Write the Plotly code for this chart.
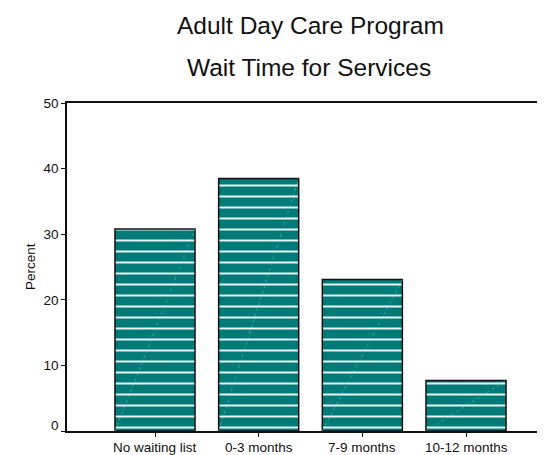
import plotly.graph_objects as go

# data
categories = ['No waiting list', '0-3 months', '7-9 months', '10-12 months']
percent = [30.8, 38.5, 23.1, 7.7]
y_ticks = [0, 10, 20, 30, 40, 50]

title_1 = 'Adult Day Care Program'
title_2 = 'Wait Time for Services'

# the page body keeps its default 8px margin, so the figure is drawn 8px
# smaller than the window and every target position is shifted by 8px
W, H = 537, 447
L, R, T, B = 59, 0, 94.5, 24
bar_w = 0.772
teal = '#007b78'
font = 'Arial, Liberation Sans, sans-serif'

xs = list(range(len(categories)))

graph_data = []

graph_data.append(
    go.Bar(
        x=xs,
        y=percent,
        width=bar_w,
        marker=dict(
            color=teal,
            line=dict(color='#111111', width=1.5),
            pattern=dict(shape='-', bgcolor=teal, fgcolor='#eaf6f6',
                         size=11, solidity=0.18, fillmode='replace'),
        ),
        showlegend=False,
        hoverinfo='y'
    )
)

# faint diagonal artefact across each bar (bottom-left to top-right)
for i, v in zip(xs, percent):
    graph_data.append(
        go.Scatter(
            x=[i - bar_w / 2, i + bar_w / 2],
            y=[0, v],
            mode='lines',
            line=dict(color='rgba(175,225,225,0.55)', width=0.7, dash='dot'),
            showlegend=False,
            hoverinfo='skip'
        )
    )

plot_w = W - L - R
plot_h = H - T - B
x_lo = -(147 - L) / 103.67
x_hi = x_lo + plot_w / 103.67

annotations = [
    dict(text=title_1, xref='paper', yref='paper',
         x=(302.5 - L) / plot_w, y=1 + (T - 17) / plot_h,
         xanchor='center', yanchor='middle', showarrow=False,
         font=dict(size=24.5)),
    dict(text=title_2, xref='paper', yref='paper',
         x=(301 - L) / plot_w, y=1 + (T - 59) / plot_h,
         xanchor='center', yanchor='middle', showarrow=False,
         font=dict(size=24.5)),
    dict(text='Percent', xref='paper', yref='paper',
         x=(22 - L) / plot_w, y=0.5, textangle=-90,
         xanchor='center', yanchor='middle', showarrow=False,
         font=dict(size=13.5)),
    # the zero label sits a little above its tick in the original
    dict(text=str(y_ticks[0]), xref='paper', yref='y',
         x=0, y=y_ticks[0], xanchor='right', yanchor='middle',
         xshift=-6, yshift=6, showarrow=False, font=dict(size=13.5))
]

# category labels placed as annotations so they sit just under the axis
for i, c in zip(xs, categories):
    annotations.append(
        dict(text=c, xref='x', yref='paper', x=i, y=0,
             xanchor='center', yanchor='middle', yshift=-16,
             showarrow=False, font=dict(size=13.5))
    )

layout = go.Layout(
    width=W,
    height=H,
    margin=dict(l=L, r=R, t=T, b=B, pad=0),
    paper_bgcolor='white',
    plot_bgcolor='white',
    font=dict(family=font, size=13.5, color='#111111'),
    xaxis=dict(
        range=[x_lo, x_hi],
        tickvals=xs,
        showticklabels=False,
        showline=True,
        linecolor='#111111',
        linewidth=2,
        mirror=True,
        ticks='outside',
        ticklen=4,
        tickcolor='#111111',
        showgrid=False,
        zeroline=False,
        automargin=False,
        fixedrange=True
    ),
    yaxis=dict(
        range=[0, 50],
        tickvals=y_ticks,
        ticktext=['' if t == 0 else str(t) for t in y_ticks],
        tickfont=dict(size=13.5),
        showline=True,
        linecolor='#111111',
        linewidth=1.5,
        ticks='outside',
        ticklen=4,
        tickcolor='#111111',
        showgrid=False,
        zeroline=False,
        automargin=False,
        fixedrange=True
    ),
    annotations=annotations
)

fig = go.Figure(data=graph_data, layout=layout)
fig.write_html('out.html')
